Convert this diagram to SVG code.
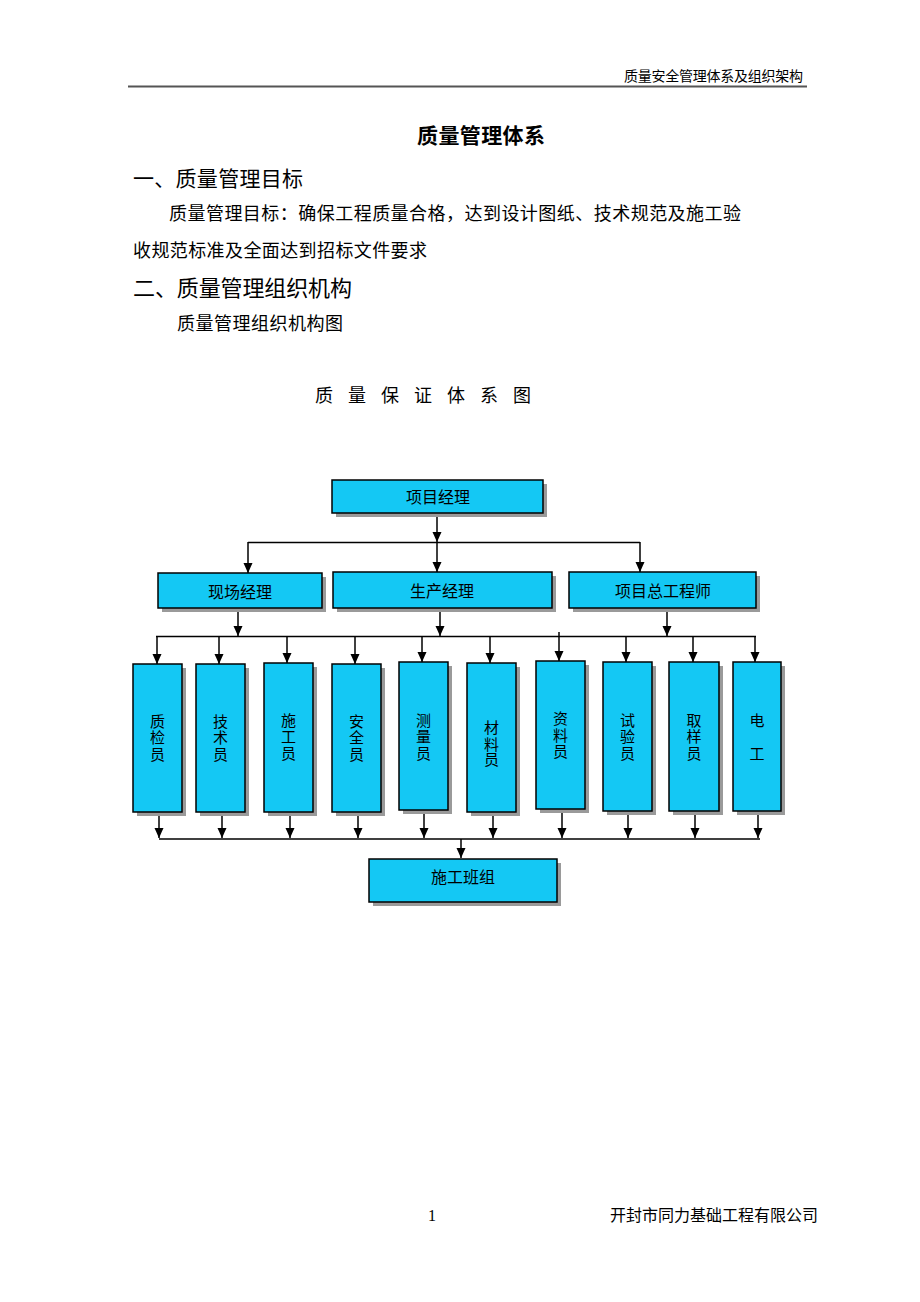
<svg xmlns="http://www.w3.org/2000/svg" width="920" height="1302" viewBox="0 0 920 1302">
<style>
.bg{fill:#ffffff}
.t{font-family:"Liberation Serif","Noto Sans CJK SC",serif;fill:#000}
.box{fill:#14C8F4;stroke:#000;stroke-width:1.5}
.sh{fill:#9a9a9a}
.lbl{font-family:"Liberation Serif","Noto Sans CJK SC",serif;font-size:15px;fill:#000;text-anchor:middle}
.mlbl{font-family:"Liberation Serif","Noto Sans CJK SC",serif;font-size:16px;fill:#000;text-anchor:middle}
.ln{stroke:#000;stroke-width:1.5;fill:none}
.arr{stroke:#000;stroke-width:1.5;fill:none;marker-end:url(#ah)}
</style>
<defs>
<marker id="ah" markerUnits="userSpaceOnUse" markerWidth="10" markerHeight="10" viewBox="0 0 10 10" refX="10" refY="5" orient="auto">
<path d="M0,0.5 L10,5 L0,9.5 z" fill="#000"/>
</marker>
</defs>
<rect class="bg" x="0" y="0" width="920" height="1302"/>

<g id="header">
<text class="t" x="803" y="81" font-size="14" text-anchor="end" textLength="179">质量安全管理体系及组织架构</text>
<line x1="128" y1="86.5" x2="807" y2="86.5" stroke="#555" stroke-width="2"/>
</g>

<g id="body-text">
<text class="t" x="417" y="142.5" font-size="21" font-weight="bold" textLength="128">质量管理体系</text>
<text class="t" x="133" y="186" font-size="21" textLength="170">一、质量管理目标</text>
<text class="t" x="169" y="220" font-size="18" textLength="572">质量管理目标：确保工程质量合格，达到设计图纸、技术规范及施工验</text>
<text class="t" x="133" y="256.5" font-size="18" textLength="294">收规范标准及全面达到招标文件要求</text>
<text class="t" x="133" y="296" font-size="22" textLength="219">二、质量管理组织机构</text>
<text class="t" x="177" y="330" font-size="18" textLength="166">质量管理组织机构图</text>
<text class="t" y="401.5" font-size="18"><tspan x="315">质</tspan><tspan x="348">量</tspan><tspan x="381">保</tspan><tspan x="414">证</tspan><tspan x="447">体</tspan><tspan x="480">系</tspan><tspan x="513">图</tspan></text>
</g>

<g id="connectors">
<line class="arr" x1="437" y1="513" x2="437" y2="542"/>
<line class="ln" x1="248" y1="542.5" x2="640" y2="542.5"/>
<line class="arr" x1="248" y1="542" x2="248" y2="573"/>
<line class="arr" x1="437" y1="542" x2="437" y2="572"/>
<line class="arr" x1="640" y1="542" x2="640" y2="572"/>

<line class="arr" x1="238" y1="608" x2="238" y2="636"/>
<line class="arr" x1="440" y1="608" x2="440" y2="636"/>
<line class="arr" x1="667" y1="608" x2="667" y2="636"/>
<line class="ln" x1="156" y1="636.5" x2="756" y2="636.5"/>
<line class="arr" x1="157" y1="636" x2="157" y2="664"/>
<line class="arr" x1="219" y1="636" x2="219" y2="664"/>
<line class="arr" x1="287" y1="636" x2="287" y2="663"/>
<line class="arr" x1="355" y1="636" x2="355" y2="664"/>
<line class="arr" x1="422" y1="636" x2="422" y2="662"/>
<line class="arr" x1="490" y1="636" x2="490" y2="663"/>
<line class="arr" x1="559" y1="632" x2="559" y2="661"/>
<line class="arr" x1="626" y1="636" x2="626" y2="662"/>
<line class="arr" x1="693" y1="636" x2="693" y2="662"/>
<line class="arr" x1="755" y1="636" x2="755" y2="662"/>

<line class="arr" x1="159" y1="812" x2="159" y2="838"/>
<line class="arr" x1="222" y1="812" x2="222" y2="838"/>
<line class="arr" x1="290" y1="812" x2="290" y2="838"/>
<line class="arr" x1="358" y1="812" x2="358" y2="838"/>
<line class="arr" x1="424" y1="810" x2="424" y2="838"/>
<line class="arr" x1="493" y1="812" x2="493" y2="838"/>
<line class="arr" x1="562" y1="809" x2="562" y2="838"/>
<line class="arr" x1="628" y1="811" x2="628" y2="838"/>
<line class="arr" x1="695" y1="811" x2="695" y2="838"/>
<line class="arr" x1="758" y1="811" x2="758" y2="838"/>
<line class="ln" x1="159" y1="839" x2="760" y2="839"/>
<line class="arr" x1="461" y1="839" x2="461" y2="858"/>
</g>

<g id="n-xmjl">
<rect class="sh" x="336" y="484" width="211" height="33"/>
<rect class="box" x="332" y="480" width="211" height="33"/>
<text class="mlbl" x="438" y="503">项目经理</text>
</g>
<g id="n-xcjl">
<rect class="sh" x="162" y="577" width="164" height="35"/>
<rect class="box" x="158" y="573" width="164" height="35"/>
<text class="mlbl" x="240" y="598">现场经理</text>
</g>
<g id="n-scjl">
<rect class="sh" x="337" y="576" width="219" height="36"/>
<rect class="box" x="333" y="572" width="219" height="36"/>
<text class="mlbl" x="442" y="596.5">生产经理</text>
</g>
<g id="n-zgcs">
<rect class="sh" x="573" y="576" width="187" height="36"/>
<rect class="box" x="569" y="572" width="187" height="36"/>
<text class="mlbl" x="663" y="596.5">项目总工程师</text>
</g>

<g id="n-zjy">
<rect class="sh" x="137" y="668" width="49" height="148"/>
<rect class="box" x="133" y="664" width="49" height="148"/>
<text class="lbl"><tspan x="157.5" y="726.5">质</tspan><tspan x="157.5" y="743">检</tspan><tspan x="157.5" y="759.5">员</tspan></text>
</g>
<g id="n-jsy">
<rect class="sh" x="200" y="668" width="49" height="148"/>
<rect class="box" x="196" y="664" width="49" height="148"/>
<text class="lbl"><tspan x="220.5" y="726.5">技</tspan><tspan x="220.5" y="743">术</tspan><tspan x="220.5" y="759.5">员</tspan></text>
</g>
<g id="n-sgy">
<rect class="sh" x="268" y="667" width="49" height="149"/>
<rect class="box" x="264" y="663" width="49" height="149"/>
<text class="lbl"><tspan x="288.5" y="725.5">施</tspan><tspan x="288.5" y="742">工</tspan><tspan x="288.5" y="758.5">员</tspan></text>
</g>
<g id="n-aqy">
<rect class="sh" x="336" y="668" width="49" height="148"/>
<rect class="box" x="332" y="664" width="49" height="148"/>
<text class="lbl"><tspan x="356.5" y="726.5">安</tspan><tspan x="356.5" y="743">全</tspan><tspan x="356.5" y="759.5">员</tspan></text>
</g>
<g id="n-cly">
<rect class="sh" x="403" y="666" width="49" height="148"/>
<rect class="box" x="399" y="662" width="49" height="148"/>
<text class="lbl"><tspan x="423.5" y="725.5">测</tspan><tspan x="423.5" y="742">量</tspan><tspan x="423.5" y="758.5">员</tspan></text>
</g>
<g id="n-clyb">
<rect class="sh" x="471" y="667" width="49" height="149"/>
<rect class="box" x="467" y="663" width="49" height="149"/>
<text class="lbl"><tspan x="491.5" y="733">材</tspan><tspan x="491.5" y="749.5">料</tspan><tspan x="491.5" y="765">员</tspan></text>
</g>
<g id="n-zly">
<rect class="sh" x="540" y="665" width="49" height="148"/>
<rect class="box" x="536" y="661" width="49" height="148"/>
<text class="lbl"><tspan x="560.5" y="724">资</tspan><tspan x="560.5" y="740.5">料</tspan><tspan x="560.5" y="757">员</tspan></text>
</g>
<g id="n-syy">
<rect class="sh" x="607" y="666" width="49" height="149"/>
<rect class="box" x="603" y="662" width="49" height="149"/>
<text class="lbl"><tspan x="627.5" y="725.5">试</tspan><tspan x="627.5" y="742">验</tspan><tspan x="627.5" y="758.5">员</tspan></text>
</g>
<g id="n-qyy">
<rect class="sh" x="673" y="666" width="50" height="149"/>
<rect class="box" x="669" y="662" width="50" height="149"/>
<text class="lbl"><tspan x="694" y="725.5">取</tspan><tspan x="694" y="742">样</tspan><tspan x="694" y="758.5">员</tspan></text>
</g>
<g id="n-dg">
<rect class="sh" x="737" y="666" width="48" height="149"/>
<rect class="box" x="733" y="662" width="48" height="149"/>
<text class="lbl"><tspan x="757" y="725.5">电</tspan><tspan x="757" y="758.5">工</tspan></text>
</g>

<g id="n-sgbz">
<rect class="sh" x="373" y="863" width="188" height="43"/>
<rect class="box" x="369" y="859" width="188" height="43"/>
<text class="mlbl" x="463" y="882.5">施工班组</text>
</g>

<g id="footer">
<text class="t" x="432" y="1221" font-size="16" text-anchor="middle">1</text>
<text class="t" x="610" y="1221" font-size="16" textLength="208">开封市同力基础工程有限公司</text>
</g>
</svg>
